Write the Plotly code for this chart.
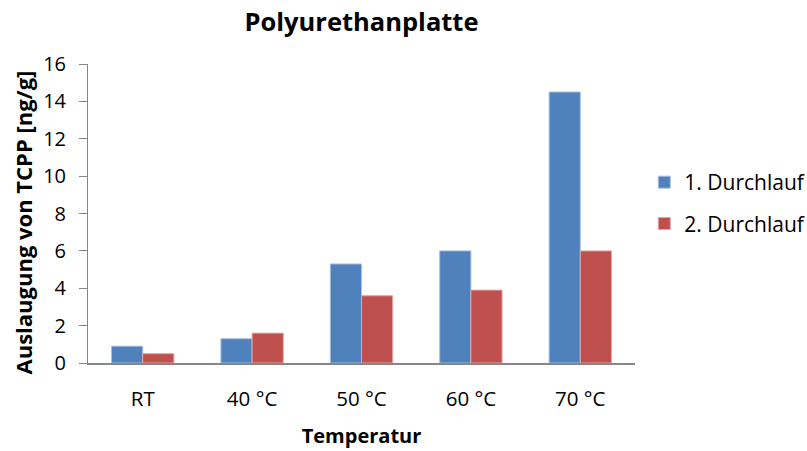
import plotly.graph_objects as go

categories = ["RT", "40 °C", "50 °C", "60 °C", "70 °C"]
run1 = [0.9, 1.3, 5.3, 6.0, 14.5]
run2 = [0.5, 1.6, 3.6, 3.9, 6.0]
series_names = ["1. Durchlauf", "2. Durchlauf"]
colors = ["#4F81BD", "#C0504D"]
line_colors = ["#A7C0DE", "#DFA7A6"]

font = "'Open Sans', sans-serif"

fig = go.Figure()
for name, vals, c, lc in zip(series_names, [run1, run2], colors, line_colors):
    fig.add_trace(go.Bar(x=categories, y=vals, name=name, legendgroup=name,
                         marker=dict(color=c, line=dict(color=lc, width=1))))

fig.update_layout(
    width=807, height=451,
    margin=dict(l=88, r=172, t=64, b=88, autoexpand=False),
    paper_bgcolor="white", plot_bgcolor="white",
    barmode="group", bargap=0.43, bargroupgap=0,
    font=dict(family=font, size=20, color="black"),
    title=dict(text="<b>Polyurethanplatte</b>", x=0.5, xanchor="center", xref="paper", y=0.95, yanchor="middle",
               font=dict(size=25.5, family=font)),
    legend=dict(x=1.017, y=0.535, xanchor="left", yanchor="middle", font=dict(size=21),
                traceorder="grouped", tracegroupgap=11, itemwidth=30, bgcolor="rgba(0,0,0,0)"),
    showlegend=True,
    annotations=[dict(text="<b>Auslaugung von TCPP [ng/g]</b>", textangle=-90,
                      xref="paper", yref="paper", x=0, y=0.5, xanchor="center", yanchor="middle",
                      xshift=-66, yshift=-9, showarrow=False, font=dict(size=22))],
)
fig.update_xaxes(showline=True, linecolor="#868686", linewidth=2, ticks="", showgrid=False,
                 tickfont=dict(size=20.5), ticklabelstandoff=16,
                 title=dict(text="<b>Temperatur</b>", font=dict(size=20), standoff=18))
fig.update_yaxes(range=[0, 16], dtick=2, showline=True, linecolor="#868686", linewidth=1,
                 ticks="outside", ticklen=8, tickcolor="#868686", showgrid=False, zeroline=False,
                 tickfont=dict(size=20), ticklabelstandoff=9)

fig.write_html("out.html")
